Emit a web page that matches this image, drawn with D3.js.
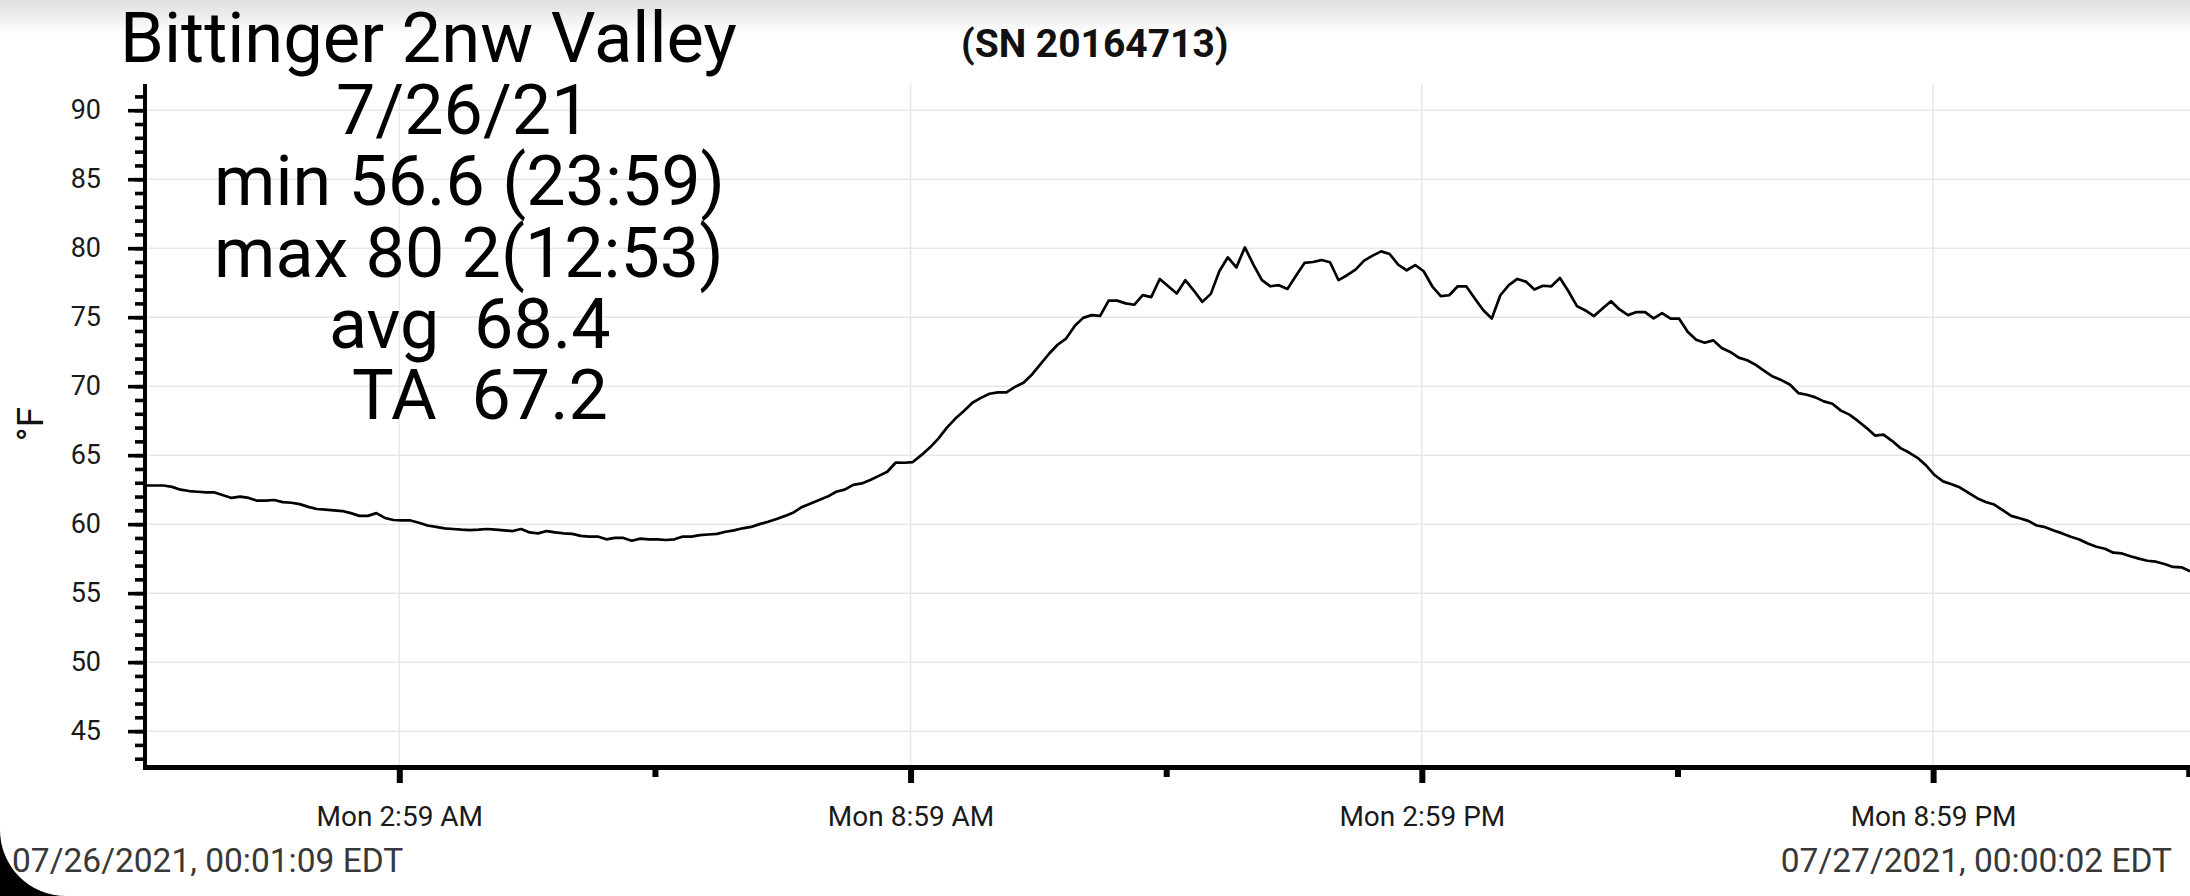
<!DOCTYPE html>
<html>
<head>
<meta charset="utf-8">
<script src="https://cdn.jsdelivr.net/npm/d3@7"></script>
<style>
  html, body { margin: 0; padding: 0; background: #fff; overflow: hidden; }
  svg { display: block; font-family: Roboto, "Noto Sans", sans-serif; }
</style>
</head>
<body>
<div id="chart"></div>
<script>
// logger readings, 07/26/21 (deg F), evenly spaced from START to END
const START = "2021-07-26T00:01:09";
const END = "2021-07-27T00:00:02";
const TEMPS = [
  62.8, 62.8, 62.8, 62.7, 62.5, 62.4, 62.35, 62.3, 62.3, 62.1,
  61.9, 62.0, 61.9, 61.7, 61.7, 61.75, 61.6, 61.55, 61.45, 61.25,
  61.1, 61.05, 61.0, 60.95, 60.8, 60.6, 60.6, 60.8, 60.45, 60.3,
  60.27, 60.27, 60.1, 59.9, 59.8, 59.7, 59.65, 59.6, 59.57, 59.6,
  59.65, 59.6, 59.55, 59.5, 59.65, 59.4, 59.33, 59.5, 59.4, 59.33,
  59.3, 59.15, 59.1, 59.1, 58.9, 59.0, 59.0, 58.8, 58.95, 58.9,
  58.9, 58.85, 58.9, 59.1, 59.1, 59.2, 59.25, 59.3, 59.45, 59.55,
  59.7, 59.8, 60.0, 60.17, 60.38, 60.6, 60.85, 61.25, 61.5, 61.75,
  62.0, 62.35, 62.5, 62.85, 62.95, 63.2, 63.5, 63.8, 64.47, 64.45,
  64.5, 65.0, 65.55, 66.2, 67.0, 67.65, 68.2, 68.8, 69.15, 69.45,
  69.55, 69.55, 69.95, 70.25, 70.85, 71.6, 72.35, 73.0, 73.45, 74.35,
  74.95, 75.15, 75.1, 76.2, 76.2, 76.0, 75.9, 76.6, 76.45, 77.77,
  77.24, 76.72, 77.68, 76.93, 76.11, 76.69, 78.33, 79.34, 78.61, 80.06,
  78.81, 77.68, 77.24, 77.32, 77.05, 78.01, 78.93, 79.0, 79.14, 78.98,
  77.68, 78.04, 78.45, 79.1, 79.46, 79.77, 79.58, 78.81, 78.4, 78.78,
  78.33, 77.24, 76.52, 76.59, 77.24, 77.24, 76.35, 75.5, 74.9, 76.59,
  77.32, 77.77, 77.58, 77.0, 77.28, 77.24, 77.84, 76.88, 75.8, 75.49,
  75.08, 75.63, 76.16, 75.56, 75.15, 75.37, 75.37, 74.91, 75.3, 74.89,
  74.89, 73.95, 73.37, 73.15, 73.32, 72.77, 72.48, 72.07, 71.88, 71.54,
  71.11, 70.7, 70.44, 70.12, 69.5, 69.38, 69.19, 68.9, 68.73, 68.23,
  67.94, 67.48, 66.98, 66.42, 66.49, 66.04, 65.51, 65.19, 64.81, 64.26,
  63.56, 63.1, 62.89, 62.65, 62.26, 61.88, 61.61, 61.42, 61.01, 60.6,
  60.43, 60.24, 59.9, 59.78, 59.54, 59.33, 59.09, 58.89, 58.6, 58.36,
  58.22, 57.93, 57.88, 57.67, 57.5, 57.35, 57.28, 57.11, 56.9, 56.87, 56.59
];

const Y_MAJOR = [45, 50, 55, 60, 65, 70, 75, 80, 85, 90];
const Y_MINOR = d3.range(43, 92);
const X_MAJOR = ["2021-07-26T02:59:09", "2021-07-26T08:59:09", "2021-07-26T14:59:09", "2021-07-26T20:59:09"];
const X_MINOR = ["2021-07-26T05:59:09", "2021-07-26T11:59:09", "2021-07-26T17:59:09", "2021-07-26T23:59:09"];

const TITLE = "Bittinger 2nw Valley";
const SERIAL = "(SN 20164713)";
const STATS = ["7/26/21", "min 56.6 (23:59)", "max 80 2(12:53)", "avg  68.4", "TA  67.2"];
const START_LABEL = "07/26/2021, 00:01:09 EDT";
const END_LABEL = "07/27/2021, 00:00:02 EDT";
const Y_LABEL = "°F";

const parse = d3.timeParse("%Y-%m-%dT%H:%M:%S");

function draw() {
  const W = 2190, H = 896;
  const t0 = parse(START), t1 = parse(END);
  const n = TEMPS.length;
  const data = TEMPS.map((v, i) => ({
    t: new Date(+t0 + (t1 - t0) * i / (n - 1)),
    v: v
  }));

  const svg = d3.select('#chart').append('svg')
    .attr('width', W)
    .attr('height', H);

  // status bar shadow at the top of the screenshot
  const grad = svg.append('defs').append('linearGradient')
    .attr('id', 'topshade').attr('x1', 0).attr('y1', 0).attr('x2', 0).attr('y2', 1);
  grad.append('stop').attr('offset', '0%').attr('stop-color', '#dedede');
  grad.append('stop').attr('offset', '100%').attr('stop-color', '#ffffff');
  svg.append('rect').attr('x', 0).attr('y', 0).attr('width', W).attr('height', 34)
    .attr('fill', 'url(#topshade)');

  const x = d3.scaleTime().domain([t0, t1]).range([146.5, 2190]);
  const y = d3.scaleLinear().domain([42.4, 91.9]).range([767, 84]);

  // grid
  const grid = svg.append('g').attr('stroke', '#e7e7e7').attr('stroke-width', 1.5);
  grid.selectAll('.hg').data(Y_MAJOR).enter().append('line')
    .attr('x1', 146).attr('x2', W)
    .attr('y1', d => y(d)).attr('y2', d => y(d));
  grid.selectAll('.vg').data(X_MAJOR.map(parse)).enter().append('line')
    .attr('x1', d => x(d)).attr('x2', d => x(d))
    .attr('y1', 84).attr('y2', 767);

  // temperature trace
  const line = d3.line().x(d => x(d.t)).y(d => y(d.v));
  svg.append('path')
    .datum(data)
    .attr('d', line)
    .attr('fill', 'none')
    .attr('stroke', '#000')
    .attr('stroke-width', 2.7)
    .attr('stroke-linejoin', 'round');

  // y axis: minor ticks, then major with labels
  const yMinor = svg.append('g').attr('transform', 'translate(145,0)')
    .call(d3.axisLeft(y).tickValues(Y_MINOR).tickSize(10).tickFormat(''));
  const yMajor = svg.append('g').attr('transform', 'translate(145,0)')
    .call(d3.axisLeft(y).tickValues(Y_MAJOR).tickSize(17).tickPadding(27).tickSizeOuter(0));
  [yMinor, yMajor].forEach(g => {
    g.select('.domain').remove();
    g.selectAll('.tick line').attr('stroke', '#000').attr('stroke-width', 3.6);
  });
  yMajor.selectAll('.tick text')
    .attr('fill', '#1a1a1a')
    .style('font-size', '27px')
    .style('font-family', 'Roboto');

  // x axis
  const fmt = d3.timeFormat('%a %-I:%M %p');
  const xMinor = svg.append('g').attr('transform', 'translate(0,767)')
    .call(d3.axisBottom(x).tickValues(X_MINOR.map(parse)).tickSize(10).tickFormat(''));
  const xMajor = svg.append('g').attr('transform', 'translate(0,767)')
    .call(d3.axisBottom(x).tickValues(X_MAJOR.map(parse)).tickSize(16).tickPadding(23).tickFormat(fmt));
  [xMinor, xMajor].forEach(g => {
    g.select('.domain').remove();
    g.selectAll('.tick line').attr('stroke', '#000').attr('stroke-width', 6);
  });
  xMajor.selectAll('.tick text')
    .attr('fill', '#1a1a1a')
    .style('font-size', '28px')
    .style('font-family', 'Roboto');

  // axis lines
  svg.append('line').attr('x1', 145).attr('x2', 145).attr('y1', 84).attr('y2', 769.5)
    .attr('stroke', '#000').attr('stroke-width', 4);
  svg.append('line').attr('x1', 143).attr('x2', W).attr('y1', 767.5).attr('y2', 767.5)
    .attr('stroke', '#000').attr('stroke-width', 5);

  // y label
  svg.append('text')
    .attr('transform', 'translate(43,424) rotate(-90)')
    .attr('text-anchor', 'middle')
    .style('font-size', '37px')
    .attr('fill', '#111')
    .text(Y_LABEL);

  // title + serial
  svg.append('text').attr('x', 120).attr('y', 62)
    .style('font-size', '70.5px').attr('fill', '#000').text(TITLE);
  svg.append('text').attr('x', 961).attr('y', 57)
    .style('font-size', '39px').style('font-weight', 'bold').attr('fill', '#111').text(SERIAL);

  // daily stats block
  const statX = [336, 214, 214, 329, 352];
  const statY = [134, 205, 277, 348, 419];
  svg.append('g').selectAll('text').data(STATS).enter().append('text')
    .attr('x', (d, i) => statX[i])
    .attr('y', (d, i) => statY[i])
    .attr('xml:space', 'preserve')
    .style('white-space', 'pre')
    .style('font-size', '70px')
    .attr('fill', '#000')
    .text(d => d);

  // start / end timestamps
  svg.append('text').attr('x', 12).attr('y', 872)
    .style('font-size', '33.5px').attr('fill', '#383838').text(START_LABEL);
  svg.append('text').attr('x', 2172).attr('y', 872).attr('text-anchor', 'end')
    .style('font-size', '33.5px').attr('fill', '#383838').text(END_LABEL);

  // rounded screen corner, bottom left
  svg.append('path')
    .attr('d', 'M0,830 A66,66 0 0 0 66,896 L0,896 Z')
    .attr('fill', '#000');
}

draw();
</script>
</body>
</html>
